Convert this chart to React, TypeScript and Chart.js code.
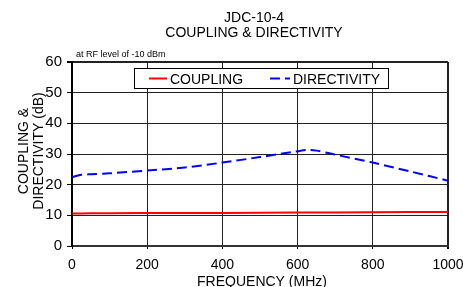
import React, { useEffect, useRef } from "react";
import { Chart, registerables } from "chart.js";

Chart.register(...registerables);

const titleLines = ["JDC-10-4", "COUPLING & DIRECTIVITY"];
const subtitle = "at RF level of -10 dBm";
const xTitle = "FREQUENCY (MHz)";
const yTitleLines = ["COUPLING &", "DIRECTIVITY (dB)"];
const seriesNames = ["COUPLING", "DIRECTIVITY"];

const frequencies = [1, 25, 50, 100, 200, 300, 400, 500, 600, 625, 650, 700, 800, 900, 1000];
const coupling = [10.6, 10.6, 10.65, 10.7, 10.75, 10.8, 10.8, 10.85, 10.9, 10.9, 10.9, 10.95, 11.0, 11.05, 11.1];
const directivity = [22.5, 23.2, 23.4, 23.7, 24.6, 25.6, 27.2, 29.0, 30.9, 31.3, 31.1, 29.8, 27.2, 24.3, 21.3];

const xMin = 0, xMax = 1000, xStep = 200;
const yMin = 0, yMax = 60, yStep = 10;

const FONT = "'Liberation Sans', Arial, sans-serif";

const textPlugin = {
  id: "textPlugin",
  afterDraw(chart: any) {
    const ctx = chart.ctx as CanvasRenderingContext2D;
    const area = chart.chartArea;
    ctx.save();
    ctx.fillStyle = "#000";
    // title
    ctx.font = `14px ${FONT}`;
    ctx.textAlign = "center";
    ctx.textBaseline = "alphabetic";
    ctx.fillText(titleLines[0], 254, 22);
    ctx.fillText(titleLines[1], 254, 37);
    // subtitle
    ctx.font = `9px ${FONT}`;
    ctx.textAlign = "left";
    ctx.fillText(subtitle, 76, 57);
    // x title
    ctx.font = `14px ${FONT}`;
    ctx.textAlign = "center";
    ctx.fillText(xTitle, (area.left + area.right) / 2 + 2, 286);
    // y title
    ctx.save();
    ctx.translate(0, 151);
    ctx.rotate(-Math.PI / 2);
    ctx.textAlign = "center";
    ctx.fillText(yTitleLines[0], 0, 28);
    ctx.fillText(yTitleLines[1], 0, 43);
    ctx.restore();

    // legend
    const lx = 134.5, ly = 68.5, lw = 254, lh = 20;
    ctx.fillStyle = "#fff";
    ctx.fillRect(lx, ly, lw, lh);
    ctx.strokeStyle = "#000";
    ctx.lineWidth = 1;
    ctx.strokeRect(lx, ly, lw, lh);
    const ds = chart.data.datasets;
    const items = [
      { x1: 149, x2: 167, tx: 170 },
      { x1: 270, x2: 290, tx: 293 },
    ];
    items.forEach((it, i) => {
      ctx.beginPath();
      ctx.strokeStyle = ds[i].borderColor;
      ctx.lineWidth = 2;
      ctx.setLineDash(ds[i].borderDash || []);
      ctx.moveTo(it.x1, 78.5);
      ctx.lineTo(it.x2, 78.5);
      ctx.stroke();
      ctx.setLineDash([]);
      ctx.fillStyle = "#000";
      ctx.font = `14px ${FONT}`;
      ctx.textAlign = "left";
      ctx.fillText(ds[i].label, it.tx, 84);
    });
    ctx.restore();
  },
};

export default function App() {
  const ref = useRef<HTMLCanvasElement>(null);
  useEffect(() => {
    if (!ref.current) return;
    const chart = new Chart(ref.current, {
      type: "line",
      data: {
        datasets: [
          {
            label: seriesNames[0],
            data: frequencies.map((f, i) => ({ x: f, y: coupling[i] })),
            borderColor: "#ff0000",
            borderWidth: 2,
            pointRadius: 0,
            tension: 0,
          },
          {
            label: seriesNames[1],
            data: frequencies.map((f, i) => ({ x: f, y: directivity[i] })),
            borderColor: "#0000ff",
            borderWidth: 2,
            borderDash: [10, 5],
            pointRadius: 0,
            tension: 0.3,
          },
        ],
      },
      options: {
        animation: false,
        responsive: true,
        maintainAspectRatio: false,
        layout: { padding: { top: 62, right: 0, left: 0, bottom: 0 } },
        plugins: { legend: { display: false }, title: { display: false }, tooltip: { enabled: false } },
        scales: {
          x: {
            type: "linear",
            min: xMin,
            max: xMax,
            afterFit: (s: any) => {
              s.height = 41;
              s.paddingRight = 15;
              s.paddingLeft = 0;
            },
            ticks: {
              stepSize: xStep,
              color: "#000",
              font: { family: FONT, size: 14 },
              padding: 8,
              maxRotation: 0,
              callback: (v: any) => String(v),
            },
            grid: {
              color: "#222",
              lineWidth: (c: any) => (c.tick && c.tick.value === xMax ? 2 : 1),
              tickLength: 3,
              tickColor: "#000",
            },
            border: { display: true, color: "#333", width: 2 },
          },
          y: {
            type: "linear",
            min: yMin,
            max: yMax,
            afterFit: (s: any) => { s.width = 72; },
            ticks: {
              stepSize: yStep,
              color: "#000",
              font: { family: FONT, size: 15 },
              padding: 5,
              callback: (v: any) => String(v),
            },
            grid: {
              color: "#222",
              lineWidth: (c: any) => (c.tick && c.tick.value === yMax ? 2 : 1),
              tickLength: 5,
              tickColor: "#000",
            },
            border: { display: true, color: "#000", width: 2 },
          },
        },
      },
      plugins: [textPlugin],
    });
    return () => chart.destroy();
  }, []);
  return (
    <div style={{ position: "fixed", left: 0, top: 0, width: 463, height: 287, background: "#fff" }}>
      <canvas ref={ref} />
    </div>
  );
}
